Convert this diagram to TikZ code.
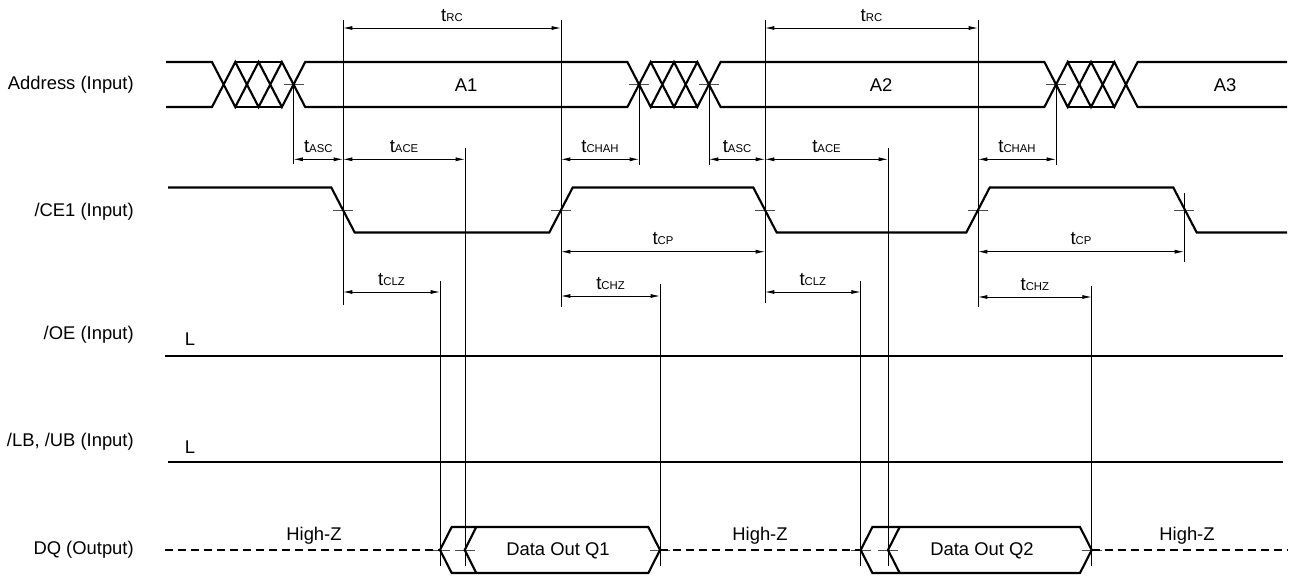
\documentclass[tikz,border=0pt]{standalone}
\usepackage{fontspec}
\setmainfont{Liberation Sans}
\usepackage{tikz}
\usetikzlibrary{arrows.meta}
\newcommand{\tpar}[1]{t{\fontsize{8.5}{9}\selectfont #1}}

\begin{document}
\begin{tikzpicture}[x=0.75pt,y=0.75pt,yscale=-1,xscale=1,
  sig/.style={line width=1.6pt},
  hiz/.style={line width=1.5pt,dash pattern=on 6pt off 3.75pt},
  guide/.style={line width=0.6pt},
  tickmark/.style={line width=0.6pt,black!70},
  dim/.style={line width=0.6pt,{Latex[length=7pt,width=3pt]}-{Latex[length=7pt,width=3pt]}},
  txt/.style={inner sep=0.75pt,font=\fontsize{13.8}{16}\selectfont},
  timing/.style={inner sep=0.75pt,font=\fontsize{14}{15}\selectfont,midway,above=4pt}]
%set diagram left start at 0, and has height of 576
\useasboundingbox (0,0) rectangle (1293,576);

%Ticks at the crossings
\draw [tickmark] (283.5,84.5) -- (303.5,84.5) (629,84.5) -- (649,84.5) (699,84.5) -- (719,84.5) (1046,84.5) -- (1066,84.5);
\draw [tickmark] (333,210) -- (353,210) (551,210) -- (571,210) (755,210) -- (775,210) (968,210) -- (988,210) (1174,210) -- (1194,210);
\draw [tickmark] (430,550) -- (450,550) (455,550) -- (475,550) (650,550) -- (670,550) (850.7,550) -- (870.7,550) (878,550) -- (898,550) (1081.7,550) -- (1101.7,550);

%Straight Lines: guides
\draw [guide] (293.5,84.5) -- (293.5,164);
\draw [guide] (343,20) -- (343,305);
\draw [guide] (465,148) -- (465,566);
\draw [guide] (561,20) -- (561,307);
\draw [guide] (639,84.5) -- (639,165);
\draw [guide] (709,84.5) -- (709,165);
\draw [guide] (765,20) -- (765,303);
\draw [guide] (888,148) -- (888,566);
\draw [guide] (978,20) -- (978,307);
\draw [guide] (1056,84.5) -- (1056,165);
\draw [guide] (1184,193) -- (1184,262);
\draw [guide] (440,281) -- (440,566);
\draw [guide] (660,284) -- (660,566);
\draw [guide] (860.7,281) -- (860.7,566);
\draw [guide] (1091.7,286) -- (1091.7,566);

%Shape: Address bus
\draw [sig] (166,62) -- (212,62) -- (235.3,107) -- (258.6,62) -- (281.9,107) -- (305.2,62) -- (627.4,62) -- (650.7,107) -- (674,62) -- (697.3,107) -- (720.6,62) -- (1044.4,62) -- (1067.7,107) -- (1091,62) -- (1114.3,107) -- (1137.6,62) -- (1287,62);
\draw [sig] (166,107) -- (212,107) -- (235.3,62) -- (258.6,107) -- (281.9,62) -- (305.2,107) -- (627.4,107) -- (650.7,62) -- (674,107) -- (697.3,62) -- (720.6,107) -- (1044.4,107) -- (1067.7,62) -- (1091,107) -- (1114.3,62) -- (1137.6,107) -- (1287,107);
\draw [sig] (235.3,62) -- (281.9,62) (235.3,107) -- (281.9,107) (650.7,62) -- (697.3,62) (650.7,107) -- (697.3,107) (1067.7,62) -- (1114.3,62) (1067.7,107) -- (1114.3,107);

%Shape: /CE1
\draw [sig] (168,187.5) -- (331.3,187.5) -- (354.7,232.5) -- (549.3,232.5) -- (572.7,187.5) -- (753.3,187.5) -- (776.7,232.5) -- (966.3,232.5) -- (989.7,187.5) -- (1173.3,187.5) -- (1196.7,232.5) -- (1287,232.5);

%Straight Lines: /OE and /LB, /UB
\draw [sig] (165,355.7) -- (1283,355.7);
\draw [sig] (168,462.3) -- (1283,462.3);

%Shape: DQ
\draw [hiz] (165,550) -- (440,550);
\draw [sig] (440,550) -- (451.7,527) -- (648.3,527) -- (660,550) -- (648.3,573) -- (451.7,573) -- cycle;
\draw [sig] (476.3,527) -- (464.7,550) -- (476.3,573);
\draw [hiz] (660,550) -- (860.7,550);
\draw [sig] (860.7,550) -- (872.4,527) -- (1080,527) -- (1091.7,550) -- (1080,573) -- (872.4,573) -- cycle;
\draw [sig] (899.7,527) -- (888,550) -- (899.7,573);
\draw [hiz] (1091.7,550) -- (1287,550);

%Dimension arrows
\draw [dim] (343,28) -- (561,28) node [timing] (trc1) {\tpar{RC}};
\draw [dim] (765,28) -- (978,28) node [timing] (trc2) {\tpar{RC}};
\draw [dim] (293.5,159.3) -- (343,159.3) node [timing] (tasc1) {\tpar{ASC}};
\draw [dim] (343,159.3) -- (465,159.3) node [timing] (tace1) {\tpar{ACE}};
\draw [dim] (561,159.3) -- (639,159.3) node [timing] (tchah1) {\tpar{CHAH}};
\draw [dim] (709,159.3) -- (765,159.3) node [timing] (tasc2) {\tpar{ASC}};
\draw [dim] (765,159.3) -- (888,159.3) node [timing] (tace2) {\tpar{ACE}};
\draw [dim] (978,159.3) -- (1056,159.3) node [timing] (tchah2) {\tpar{CHAH}};
\draw [dim] (561,251.7) -- (765,251.7) node [timing] (tcp1) {\tpar{CP}};
\draw [dim] (978,251.7) -- (1184,251.7) node [timing] (tcp2) {\tpar{CP}};
\draw [dim] (343,292) -- (440,292) node [timing] (tclz1) {\tpar{CLZ}};
\draw [dim] (561,296) -- (660,296) node [timing] (tchz1) {\tpar{CHZ}};
\draw [dim] (765,292) -- (860.7,292) node [timing] (tclz2) {\tpar{CLZ}};
\draw [dim] (978,297) -- (1091.7,297) node [timing] (tchz2) {\tpar{CHZ}};

% Text Node
\draw (135,85) node [txt,anchor=east] (addr) {Address (Input)};
% Text Node
\draw (135,212) node [txt,anchor=east] (ce1) {/CE1 (Input)};
% Text Node
\draw (135,335) node [txt,anchor=east] (oe) {/OE (Input)};
% Text Node
\draw (135,442) node [txt,anchor=east] (lbub) {/LB, /UB (Input)};
% Text Node
\draw (135,550) node [txt,anchor=east] (dq) {DQ (Output)};
% Text Node
\draw (190,339) node [txt] (oel) {L};
% Text Node
\draw (190,447) node [txt] (lbl) {L};
% Text Node
\draw (466,85) node [txt] (a1) {A1};
% Text Node
\draw (881,85) node [txt] (a2) {A2};
% Text Node
\draw (1225,85) node [txt] (a3) {A3};
% Text Node
\draw (314,536) node [txt] (hz1) {High-Z};
% Text Node
\draw (760,536) node [txt] (hz2) {High-Z};
% Text Node
\draw (1187,536) node [txt] (hz3) {High-Z};
% Text Node
\draw (558,551) node [txt] (q1) {Data Out Q1};
% Text Node
\draw (982,551) node [txt] (q2) {Data Out Q2};
\end{tikzpicture}
\end{document}
